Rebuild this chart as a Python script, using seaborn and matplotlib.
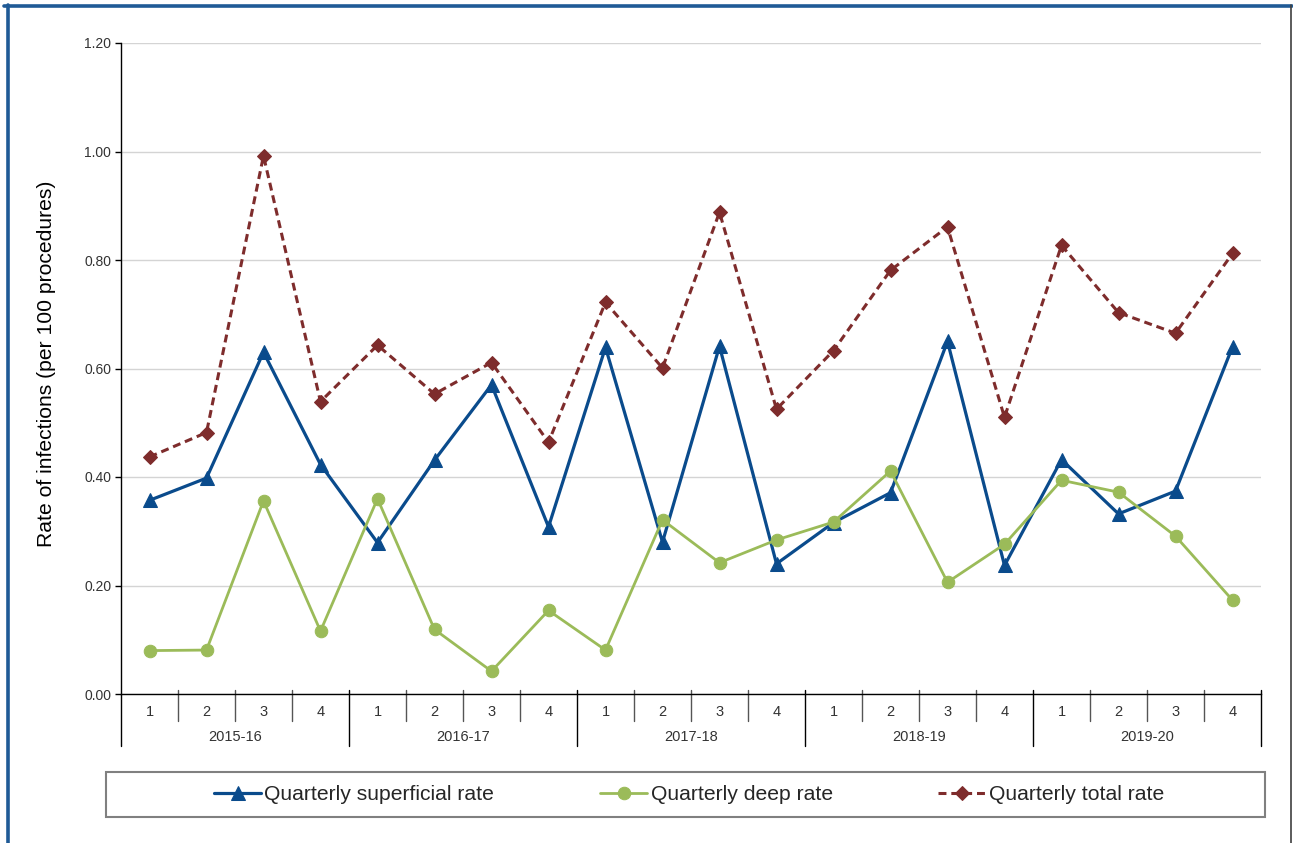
import numpy as np
import pandas as pd
import matplotlib
matplotlib.use("Agg")
import matplotlib.pyplot as plt
import matplotlib.transforms as mtransforms
from matplotlib.patches import Rectangle
from matplotlib.lines import Line2D
import seaborn as sns

# ---------------- data ----------------
years = ["2015-16", "2016-17", "2017-18", "2018-19", "2019-20"]
quarters = ["1", "2", "3", "4"]
superficial = [0.357, 0.398, 0.630, 0.423,
               0.279, 0.431, 0.570, 0.308,
               0.639, 0.280, 0.641, 0.240,
               0.316, 0.371, 0.650, 0.237,
               0.432, 0.332, 0.374, 0.640]
deep = [0.080, 0.081, 0.356, 0.116,
        0.360, 0.119, 0.042, 0.154,
        0.081, 0.321, 0.242, 0.284,
        0.317, 0.411, 0.206, 0.276,
        0.394, 0.372, 0.291, 0.173]
total = [0.437, 0.482, 0.992, 0.539,
         0.643, 0.553, 0.611, 0.464,
         0.722, 0.601, 0.888, 0.525,
         0.633, 0.781, 0.861, 0.510,
         0.827, 0.703, 0.665, 0.812]
series_names = ["Quarterly superficial rate", "Quarterly deep rate", "Quarterly total rate"]
yticks = [0.0, 0.2, 0.4, 0.6, 0.8, 1.0, 1.2]
ylabel = "Rate of infections (per 100 procedures)"

# ---------------- style ----------------
sns.set_theme(style="white")
plt.rcParams["font.family"] = ["Liberation Sans", "DejaVu Sans"]

W, H = 1293, 843
fig = plt.figure(figsize=(W / 100, H / 100), dpi=100)
ax_l, ax_r, ax_t, ax_b = 121, 1261, 43, 694
ax = fig.add_axes([ax_l / W, 1 - ax_b / H, (ax_r - ax_l) / W, (ax_b - ax_t) / H])
ax_h_px = ax_b - ax_t

pos = np.arange(len(years) * len(quarters))
df = pd.DataFrame({"pos": pos, "superficial": superficial, "deep": deep, "total": total})

c_sup, c_deep, c_tot = "#0A4B8C", "#9BBB59", "#7E2C2C"

sns.lineplot(data=df, x="pos", y="superficial", ax=ax, color=c_sup, marker="^",
             markersize=9.5, markeredgecolor=c_sup, linewidth=2.3, label=series_names[0])
sns.lineplot(data=df, x="pos", y="deep", ax=ax, color=c_deep, marker="o",
             markersize=9, markeredgecolor=c_deep, linewidth=2.0, label=series_names[1])
sns.lineplot(data=df, x="pos", y="total", ax=ax, color=c_tot, marker="D",
             markersize=7.5, markeredgecolor=c_tot, linewidth=2.2, label=series_names[2])
ax.lines[-1].set_dashes((2.6, 1.6))

handles, labels = ax.get_legend_handles_labels()
if ax.get_legend() is not None:
    ax.get_legend().remove()

ax.set_xlim(-0.5, len(pos) - 0.5)
ax.set_ylim(0, 1.2)
ax.set_yticks(yticks)
ax.set_yticklabels([f"{v:.2f}" for v in yticks], fontsize=10, color="#333333")
ax.set_xticks([])
ax.set_xlabel("")
ax.set_ylabel("")
ax.tick_params(axis="y", direction="out", length=4, width=1, color="black", left=True, pad=3)
ax.grid(axis="y", color="#D4D4D4", linewidth=1)
ax.set_axisbelow(True)
for s in ["top", "right"]:
    ax.spines[s].set_visible(False)
for s in ["left", "bottom"]:
    ax.spines[s].set_color("black")
    ax.spines[s].set_linewidth(1)

# multi-level category axis
trans = mtransforms.blended_transform_factory(ax.transData, ax.transAxes)
px = 1.0 / ax_h_px
n = len(pos)
for i in range(n + 1):
    x = i - 0.5
    if i % 4 == 0:
        y0 = 0 if i == 0 else 4 * px
        ax.plot([x, x], [y0, -52 * px], transform=trans, color="black", lw=1, clip_on=False)
    else:
        ax.plot([x, x], [4 * px, -27 * px], transform=trans, color="#555555", lw=1, clip_on=False)
for i in range(n):
    ax.text(i, -18 * px, quarters[i % 4], transform=trans, ha="center", va="center",
            fontsize=10.5, color="#333333")
for j, yr in enumerate(years):
    ax.text(j * 4 + 1.5, -43 * px, yr, transform=trans, ha="center", va="center",
            fontsize=10.5, color="#333333")

fig.text(46 / W, 1 - 364 / H, ylabel, rotation=90, ha="center", va="center",
         fontsize=15.2, color="black")

# legend with frame
lx0, lx1, ly0, ly1 = 106, 1265, 772, 817
fig.patches.append(Rectangle((lx0 / W, 1 - ly1 / H), (lx1 - lx0) / W, (ly1 - ly0) / H,
                             transform=fig.transFigure, facecolor="white",
                             edgecolor="#808080", linewidth=1.5, zorder=1))
fig.legend(handles, labels, loc="center", bbox_to_anchor=(689 / W, 1 - 795 / H),
           ncol=3, frameon=False, fontsize=15.2, handlelength=2.25, handletextpad=0.15,
           columnspacing=5.0)

# outer border
fig.lines.append(Line2D([4 / W, 1292 / W], [1 - 6 / H, 1 - 6 / H], transform=fig.transFigure,
                        color="#1F5A96", linewidth=2.6))
fig.lines.append(Line2D([7.5 / W, 7.5 / W], [0, 1 - 5 / H], transform=fig.transFigure,
                        color="#1F5A96", linewidth=2.6))
fig.lines.append(Line2D([1291 / W, 1291 / W], [0, 1 - 5 / H], transform=fig.transFigure,
                        color="#404040", linewidth=1.2))

fig.savefig("out.png", dpi=100)
